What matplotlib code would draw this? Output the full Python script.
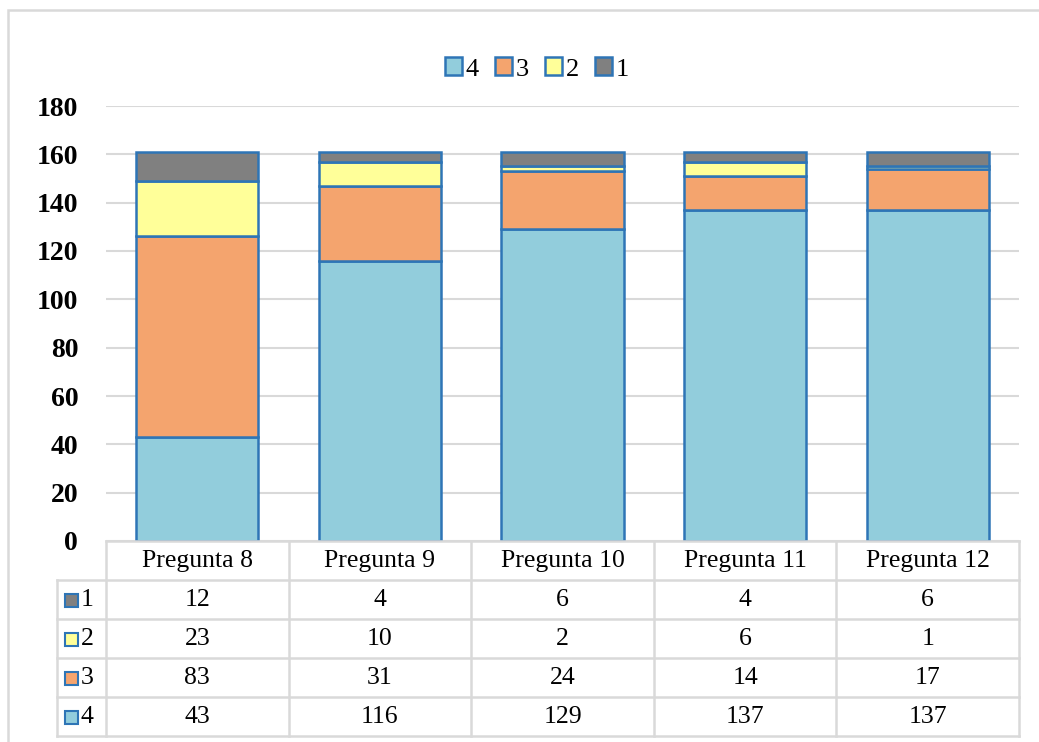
import matplotlib.pyplot as plt
from matplotlib.patches import Rectangle
import numpy as np

plt.rcParams['font.family'] = ['Liberation Serif', 'DejaVu Serif']

# data
preguntas = ["Pregunta 8", "Pregunta 9", "Pregunta 10", "Pregunta 11", "Pregunta 12"]
serie4 = [43, 116, 129, 137, 137]
serie3 = [83, 31, 24, 14, 17]
serie2 = [23, 10, 2, 6, 1]
serie1 = [12, 4, 6, 4, 6]
yticks = [0, 20, 40, 60, 80, 100, 120, 140, 160, 180]

colores = {"4": "#92CDDC", "3": "#F4A46E", "2": "#FFFF99", "1": "#808080"}
borde = "#2E75B6"
gris = "#D9D9D9"

W, H = 1039, 742
fig = plt.figure(figsize=(W / 100, H / 100), dpi=100)

# outer chart frame
fig.patches.append(Rectangle((8 / W, -0.05), 1.1, 1 - 10 / H + 0.05, transform=fig.transFigure,
                             fill=False, edgecolor=gris, linewidth=1.8))

x0, x1 = 106, 1019
ytop, ybot = 106, 541
ax = fig.add_axes([x0 / W, 1 - ybot / H, (x1 - x0) / W, (ybot - ytop) / H])
x = np.arange(len(preguntas))

# stack bottom-up: 4, 3, 2, 1
series = [("4", serie4), ("3", serie3), ("2", serie2), ("1", serie1)]
base = np.zeros(len(preguntas))
handles = {}
for nombre, vals in series:
    b = ax.bar(x, vals, 0.67, bottom=base, color=colores[nombre], edgecolor=borde,
               linewidth=1.8, label=nombre, zorder=3)
    handles[nombre] = b
    base += np.array(vals)

ax.set_xlim(-0.5, len(preguntas) - 0.5)
ax.set_ylim(0, 180)
ax.set_yticks(yticks)
ax.set_yticklabels([str(t) for t in yticks], fontsize=20, fontweight='bold')
ax.set_xticks([])
ax.grid(axis='y', color=gris, linewidth=1.5, zorder=0)
for s in ax.spines.values():
    s.set_visible(False)
ax.tick_params(axis='y', length=0, pad=20)

leg = ax.legend([handles[k] for k in ["4", "3", "2", "1"]], ["4", "3", "2", "1"],
                loc='center', bbox_to_anchor=(0.472, 1 + 37 / (ybot - ytop)), ncol=4,
                frameon=False, fontsize=19, handlelength=0.65, handleheight=0.65,
                handletextpad=0.15, columnspacing=0.6)

# data table below the plot
tabla_top, fila_h = 541, 39
filas = [("1", serie1), ("2", serie2), ("3", serie3), ("4", serie4)]
tab = fig.add_axes([x0 / W, 1 - (tabla_top + fila_h * 5) / H, (x1 - x0) / W, fila_h * 5 / H])
tab.set_xlim(-0.5, len(preguntas) - 0.5)
tab.set_ylim(5, 0)
tab.axis('off')
xl = -0.5 - (x0 - 57) / ((x1 - x0) / len(preguntas))
lw = 1.8
# horizontal lines
tab.plot([-0.5, 4.5], [0, 0], color=gris, lw=lw, clip_on=False)
for r in range(1, 6):
    tab.plot([xl, 4.5], [r, r], color=gris, lw=lw, clip_on=False)
# vertical lines
tab.plot([xl, xl], [1, 5], color=gris, lw=lw, clip_on=False)
for c in range(len(preguntas) + 1):
    tab.plot([c - 0.5, c - 0.5], [0, 5], color=gris, lw=lw, clip_on=False)

for i, p in enumerate(preguntas):
    tab.text(i, 0.5, p, ha='center', va='center', fontsize=18.5)
for r, (nombre, vals) in enumerate(filas, start=1):
    tab.add_patch(Rectangle((xl + 0.045, r + 0.35), 0.07, 0.33, facecolor=colores[nombre],
                            edgecolor=borde, linewidth=1.5, clip_on=False))
    tab.text(xl + 0.13, r + 0.52, nombre, ha='left', va='center', fontsize=18.5)
    for i, v in enumerate(vals):
        tab.text(i, r + 0.52, str(v), ha='center', va='center', fontsize=18.5)

fig.savefig("out.png", dpi=100)
